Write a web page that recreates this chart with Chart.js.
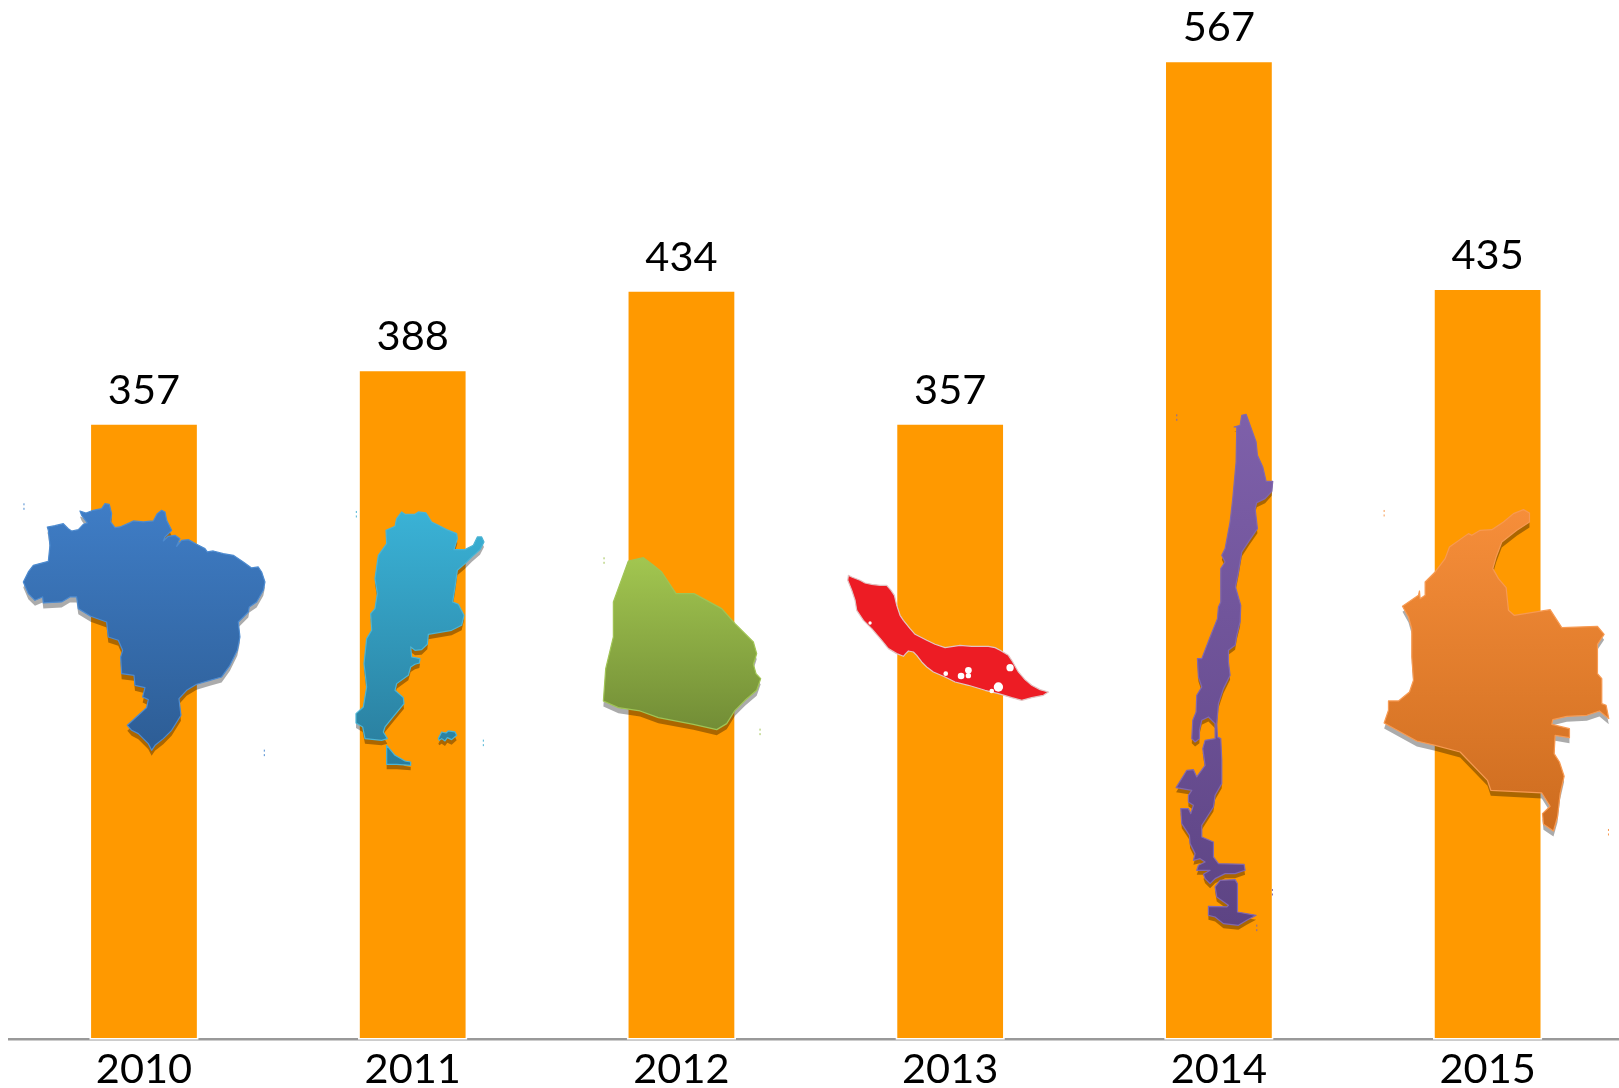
<!DOCTYPE html>
<html><head><meta charset="utf-8">
<style>html,body{margin:0;padding:0;background:#fff;overflow:hidden;width:1619px;height:1088px}canvas{display:block}</style>
<script src="https://cdn.jsdelivr.net/npm/chart.js@4"></script>
</head><body>
<canvas id="c" width="1623" height="1088" style="width:1623px;height:1088px"></canvas>
<script>
const years = ['2010','2011','2012','2013','2014','2015'];
const values = [357,388,434,357,567,435];

// Map silhouettes, traced in 3x units, placed relative to each year's bar centre and the axis.
const brazil = [[142,140],[165,136],[190,130],[205,145],[215,152],[235,148],[250,132],[262,128],[245,105],[240,92],[258,98],[280,90],[305,85],[315,70],[328,72],[335,100],[332,125],[345,142],[360,140],[390,127],[400,122],[430,125],[460,122],[472,100],[485,90],[495,95],[500,120],[515,150],[495,170],[490,182],[505,168],[525,165],[540,175],[530,198],[545,180],[565,178],[590,192],[615,205],[622,215],[640,212],[670,220],[700,225],[730,245],[755,263],[775,260],[785,275],[795,305],[790,330],[770,365],[748,380],[745,395],[715,425],[720,470],[712,510],[690,555],[665,590],[630,600],[590,612],[560,630],[537,655],[543,705],[515,750],[490,775],[465,795],[455,810],[445,790],[415,760],[395,750],[382,735],[415,705],[440,682],[445,658],[428,650],[435,622],[405,615],[402,585],[365,580],[362,530],[368,510],[355,480],[325,470],[320,425],[272,408],[235,385],[230,350],[210,350],[185,365],[130,368],[128,350],[105,360],[85,340],[70,305],[85,275],[100,255],[145,243],[150,195],[145,150]];
const argentina = [[185,65],[195,72],[225,72],[235,65],[258,68],[275,95],[295,105],[320,118],[350,130],[352,145],[342,178],[375,178],[400,165],[412,140],[425,140],[432,155],[420,178],[395,200],[375,220],[352,240],[345,290],[338,335],[355,342],[372,375],[365,405],[335,420],[265,432],[262,462],[245,478],[225,480],[212,470],[215,500],[240,505],[238,518],[225,522],[212,530],[205,555],[170,580],[165,600],[190,622],[192,640],[155,685],[135,710],[130,725],[142,745],[125,750],[75,745],[68,710],[48,698],[48,670],[70,650],[80,590],[72,520],[80,445],[95,420],[92,370],[105,355],[112,310],[105,265],[115,195],[140,160],[138,120],[165,108],[170,85]];
const fuego = [[140,765],[165,795],[195,812],[212,815],[212,825],[170,822],[140,822]];
const falklands = [[295,745],[305,725],[318,728],[325,722],[345,725],[350,735],[335,748],[322,742],[315,752],[305,745],[298,750]];
const uruguay = [[115,62],[160,52],[190,75],[215,95],[258,160],[312,160],[395,205],[435,250],[490,305],[500,340],[490,372],[498,400],[512,415],[500,450],[465,480],[435,510],[410,550],[380,568],[310,552],[205,532],[150,512],[85,502],[40,482],[47,385],[70,290],[70,185]];
const curacao = [[40,45],[50,50],[75,60],[90,68],[110,72],[135,75],[155,75],[168,90],[178,105],[185,135],[195,165],[205,180],[225,205],[240,222],[275,240],[300,252],[330,262],[375,255],[410,258],[460,258],[480,262],[495,270],[520,285],[530,300],[550,335],[570,358],[590,375],[615,388],[640,395],[625,405],[590,412],[560,420],[530,412],[490,400],[450,390],[400,375],[360,365],[330,350],[295,335],[275,320],[260,305],[245,285],[235,275],[220,272],[212,280],[205,288],[185,280],[160,265],[140,240],[110,205],[85,180],[65,150],[60,120],[50,90],[38,60]];
const curacaoHoles = [[400,330,10],[378,347,10],[400,346,8],[332,340,7],[525,322,11],[490,380,14],[470,392,7],[105,188,5]];
const chile = [[245,30],[258,27],[288,110],[292,150],[308,185],[318,228],[338,228],[335,258],[315,280],[290,292],[285,310],[292,370],[268,405],[245,440],[235,500],[226,545],[242,600],[240,650],[230,690],[225,720],[205,735],[205,770],[210,810],[190,850],[175,895],[170,955],[172,995],[182,1000],[185,1065],[185,1135],[165,1170],[160,1205],[125,1260],[125,1295],[160,1310],[160,1355],[175,1375],[252,1377],[255,1395],[225,1405],[195,1405],[165,1420],[150,1435],[135,1420],[130,1407],[150,1395],[130,1395],[110,1395],[115,1380],[135,1370],[120,1360],[100,1365],[105,1345],[90,1315],[88,1290],[65,1255],[62,1210],[85,1210],[92,1225],[100,1200],[85,1190],[85,1170],[95,1155],[48,1147],[80,1095],[100,1093],[110,1115],[135,1080],[128,1030],[135,1005],[165,1000],[165,955],[145,935],[125,945],[118,975],[118,1000],[105,1010],[95,1000],[98,945],[108,920],[110,870],[125,845],[115,815],[112,760],[125,760],[150,695],[172,640],[175,605],[182,590],[182,490],[195,470],[185,450],[195,430],[210,350],[218,280],[228,170],[230,65],[222,65],[240,60]];
const chileSouth = [[180,1425],[225,1423],[232,1435],[232,1520],[288,1530],[260,1545],[235,1560],[190,1555],[165,1535],[145,1530],[145,1503],[200,1505],[205,1500],[170,1475],[165,1445]];
const colombia = [[460,28],[478,38],[478,65],[440,90],[395,125],[378,170],[368,205],[385,235],[408,262],[415,330],[432,345],[540,328],[575,382],[682,378],[702,402],[682,432],[682,520],[695,535],[695,610],[708,615],[716,655],[688,632],[650,645],[590,648],[548,658],[545,672],[598,685],[598,712],[555,705],[552,760],[568,785],[582,828],[570,880],[562,950],[550,992],[520,972],[517,940],[540,918],[515,878],[362,870],[352,840],[270,755],[195,735],[140,722],[42,668],[55,630],[55,602],[85,602],[118,575],[130,540],[125,470],[125,385],[115,350],[97,318],[145,285],[148,272],[150,295],[165,285],[165,245],[195,215],[225,175],[238,140],[295,100],[305,105],[330,90],[365,88],[400,65],[430,40]];

const maps = [
  {i:0, dx:-144,   dy:-559, top:'#3f7dc6', bot:'#2d5d95', edge:'#4d8bd0', shadow:5.5, parts:[brazil],
   specks:[[72,78],[793,817]]},
  {i:1, dx:-72.7,  dy:-549, top:'#3ab2d6', bot:'#297c9c', edge:'#4cb4d4', shadow:5, parts:[argentina,fuego,falklands],
   specks:[[49,71],[430,757]]},
  {i:2, dx:-91.4,  dy:-499, top:'#a2c650', bot:'#728d36', edge:'#a0c455', shadow:5.5, parts:[uruguay],
   specks:[[42,60],[510,574]]},
  {i:3, dx:-115.1, dy:-479, top:'#ed1c24', bot:'#ed1c24', edge:'#e2c4c4', shadow:0, parts:[curacao],
   specks:[], holes:curacaoHoles},
  {i:4, dx:-58.8,  dy:-634, top:'#7e60aa', bot:'#5d4484', edge:'#8068ae', shadow:4.5, parts:[chile,chileSouth],
   specks:[[50,36],[337,1460],[290,1567]]},
  {i:5, dx:-117.5, dy:-539, top:'#f68e3a', bot:'#cd6c1f', edge:'#f79a52', shadow:5.5, parts:[colombia],
   specks:[[42,38],[715,995]]}
];

const valueLabels = {
  id:'valueLabels',
  afterDatasetsDraw(chart){
    const {ctx} = chart;
    ctx.save();
    ctx.font = '41.5px Lato';
    ctx.fillStyle = '#000';
    ctx.textAlign = 'center';
    ctx.textBaseline = 'middle';
    chart.getDatasetMeta(0).data.forEach((bar,i)=>{
      ctx.fillText(String(values[i]), bar.x, bar.y - 32.5);
    });
    ctx.restore();
  }
};

const mapArt = {
  id:'mapArt',
  afterDraw(chart){
    const {ctx, scales:{x,y}} = chart;
    const y0 = y.getPixelForValue(0);
    const trace = (pts,ox,oy)=>{
      ctx.beginPath();
      pts.forEach((p,k)=>{
        const px = ox + p[0]/3, py = oy + p[1]/3;
        k ? ctx.lineTo(px,py) : ctx.moveTo(px,py);
      });
      ctx.closePath();
    };
    ctx.save();
    ctx.lineJoin = 'round';
    maps.forEach(m=>{
      const ox = x.getPixelForValue(m.i) + m.dx, oy = y0 + m.dy;
      let minY = Infinity, maxY = -Infinity;
      m.parts.forEach(pts=>pts.forEach(p=>{minY=Math.min(minY,p[1]);maxY=Math.max(maxY,p[1]);}));
      const g = ctx.createLinearGradient(0, oy+minY/3, 0, oy+maxY/3);
      g.addColorStop(0,m.top); g.addColorStop(1,m.bot);
      m.specks.forEach(s=>{
        ctx.fillStyle = m.edge;
        ctx.fillRect(ox+s[0]/3-0.5, oy+s[1]/3-3, 1, 2);
        ctx.fillRect(ox+s[0]/3-0.5, oy+s[1]/3+1.5, 1, 2);
      });
      if(m.shadow){
        m.parts.forEach(pts=>{
          trace(pts,ox,oy+m.shadow);
          ctx.fillStyle='rgba(0,0,0,0.33)';
          ctx.fill();
        });
      }
      m.parts.forEach(pts=>{
        trace(pts,ox,oy);
        ctx.fillStyle=g; ctx.fill();
        ctx.strokeStyle=m.edge; ctx.lineWidth=1.2; ctx.stroke();
      });
      (m.holes||[]).forEach(h=>{
        ctx.beginPath();
        ctx.arc(ox+h[0]/3, oy+h[1]/3, h[2]/3, 0, Math.PI*2);
        ctx.fillStyle='#fff'; ctx.fill();
      });
    });
    ctx.restore();
  }
};

new Chart(document.getElementById('c'), {
  type:'bar',
  data:{labels:years, datasets:[{
    data:values,
    base:-0.3,
    clip:false,
    backgroundColor:'#ff9900',
    borderColor:'#ffffff',
    borderWidth:1.8,
    borderSkipped:false,
    barPercentage:1,
    categoryPercentage:0.407
  }]},
  options:{
    responsive:false, animation:false,
    layout:{padding:{left:9.6,right:1,top:0,bottom:0}},
    plugins:{legend:{display:false},tooltip:{enabled:false}},
    scales:{
      x:{
        afterFit(s){ s.height = 48.7; },
        grid:{display:false,drawTicks:false},
        border:{display:true,color:'#999999',width:2.5},
        ticks:{color:'#000',font:{family:'Lato',size:41.5},padding:5,maxRotation:0,minRotation:0,autoSkip:false}
      },
      y:{display:false,min:0,max:602}
    }
  },
  plugins:[valueLabels,mapArt]
});
</script>
</body></html>
